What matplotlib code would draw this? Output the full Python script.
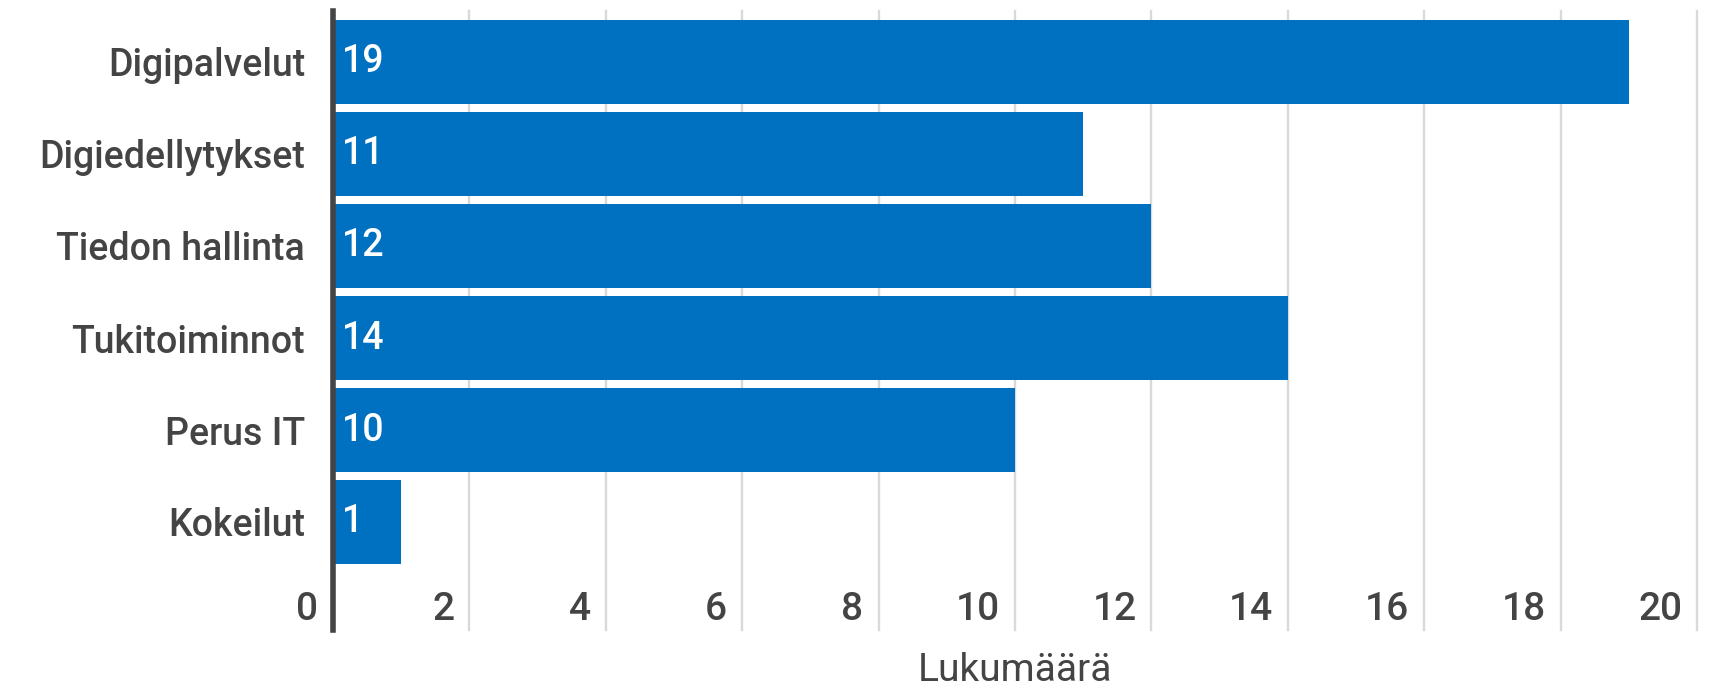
import matplotlib.pyplot as plt
from matplotlib.transforms import offset_copy

plt.rcParams['font.family'] = ['Roboto', 'DejaVu Sans']

categories = ['Digipalvelut', 'Digiedellytykset', 'Tiedon hallinta',
              'Tukitoiminnot', 'Perus IT', 'Kokeilut']
values = [19, 11, 12, 14, 10, 1]
xticks = [0, 2, 4, 6, 8, 10, 12, 14, 16, 18, 20]
xlabel = 'Lukumäärä'

bar_color = '#0070C0'
text_color = '#444444'
W, H = 1710, 688

fig = plt.figure(figsize=(W / 100, H / 100), dpi=100)
# axes box in pixels: x 333..1697, y 11..630 (from top)
ax = fig.add_axes([333 / W, (H - 630) / H, (1697 - 333) / W, (630 - 11) / H])

ypos = list(range(len(categories)))
ax.barh(ypos, values, height=84 / 92, color=bar_color, zorder=2)

ax.set_xlim(0, 20)
ax.set_ylim(len(categories) - 1 + 108 / 92, -51 / 92)

ax.set_xticks(xticks)
ax.set_xticklabels([])
ax.tick_params(axis='x', length=0)
ax.grid(axis='x', color='#d9d9d9', linewidth=1.7, zorder=0)
for gl in ax.get_xgridlines():
    gl.set_clip_on(False)

ax.set_yticks(ypos)
ax.set_yticklabels(categories, fontsize=27, fontweight='medium', color=text_color)
ax.tick_params(axis='y', length=0, pad=20)

for s in ['top', 'right', 'bottom']:
    ax.spines[s].set_visible(False)
ax.spines['left'].set_color(text_color)
ax.spines['left'].set_linewidth(4)
ax.spines['left'].set_zorder(3)

# tick labels sit inside the plot, right aligned left of each gridline
tick_tr = offset_copy(ax.get_xaxis_transform(), fig=fig, x=-15, y=10, units='dots')
for t in xticks:
    ax.text(t, 0, str(t), transform=tick_tr, ha='right', va='baseline',
            fontsize=28, fontweight='medium', color=text_color)

# value labels at the start of each bar
val_tr = offset_copy(ax.transData, fig=fig, x=9, y=0, units='dots')
for y, v in zip(ypos, values):
    ax.text(0, y, str(v), transform=val_tr, ha='left', va='center',
            fontsize=27, fontweight='medium', color='white', zorder=4)

fig.text((333 + 1697) / 2 / W, (H - 681) / H, xlabel, ha='center', va='baseline',
         fontsize=28, color=text_color)

fig.savefig('out.png', dpi=100)
